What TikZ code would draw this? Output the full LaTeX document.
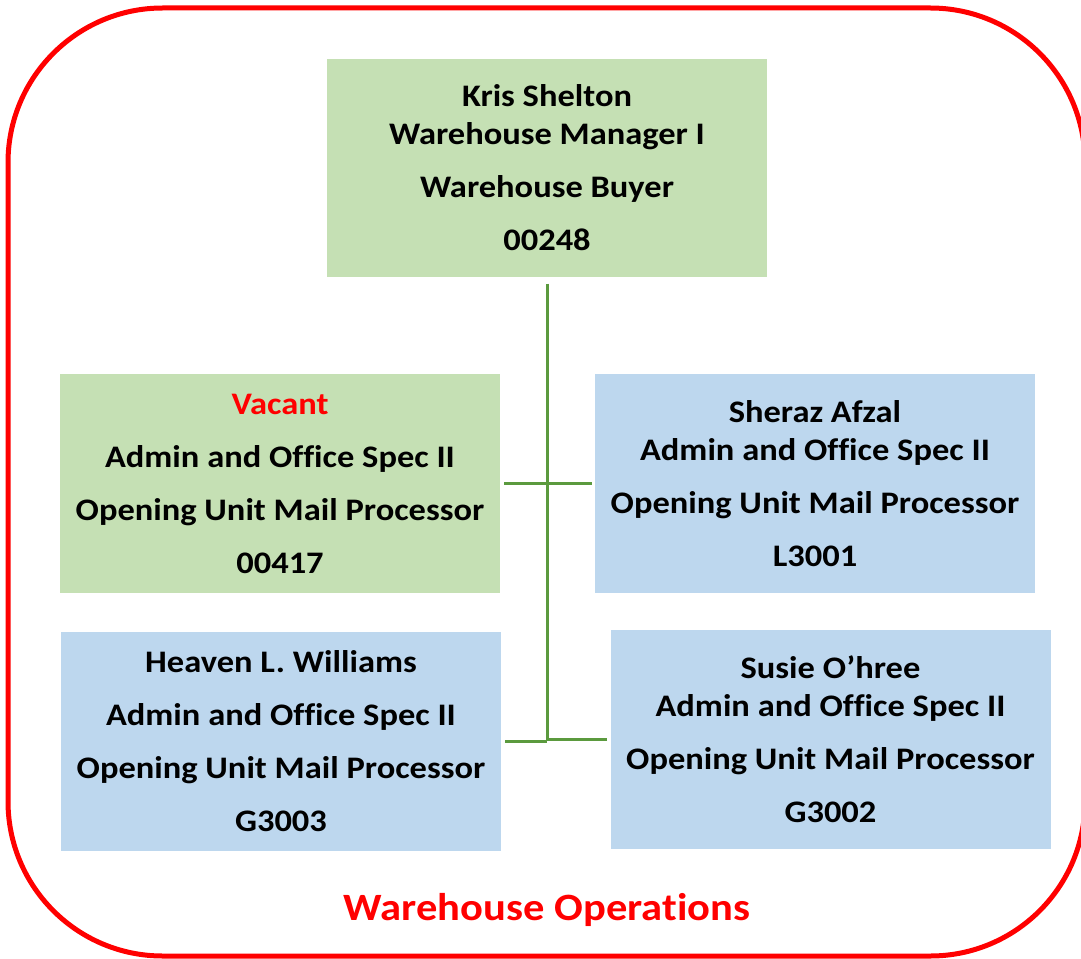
\documentclass[tikz,border=0pt]{standalone}
\usepackage{fontspec}
\setmainfont{Carlito}[FakeStretch=1.1,Ligatures=NoCommon]
\definecolor{boxgreen}{HTML}{C5E0B4}
\definecolor{boxblue}{HTML}{BDD7EE}
\definecolor{linegreen}{HTML}{5B9A3E}
\begin{document}
\begin{tikzpicture}[x=0.75pt,y=-0.75pt]
        \tikzstyle{post}=[rectangle,inner sep=0pt,minimum width=330pt,minimum height=164pt,align=center,font=\fontsize{23.5}{28.5}\selectfont\bfseries]
        \tikzstyle{filled}=[post,fill=boxgreen]
        \tikzstyle{staff}=[post,fill=boxblue]
        \tikzstyle{edge}=[draw,linegreen,line width=2.25pt]
        \useasboundingbox (0,0) rectangle (1081,959);
        \draw[red,line width=3.75pt,rounded corners=116pt] (8,8) rectangle (1085,956);
       \begin{scope}
        \node [filled] (boss) at (547,168) {Kris Shelton\\Warehouse Manager I\\[11.25pt]Warehouse Buyer\\[11.25pt]00248};
        \node [filled] (vacant) at (280,483.5) {\textcolor{red}{Vacant}\\[11.25pt]Admin and Office Spec II\\[11.25pt]Opening Unit Mail Processor\\[11.25pt]00417};
        \node [staff] (sheraz) at (815,483.5) {Sheraz Afzal\\Admin and Office Spec II\\[11.25pt]Opening Unit Mail Processor\\[11.25pt]L3001};
        \node [staff] (heaven) at (281,741.5) {Heaven L. Williams\\[11.25pt]Admin and Office Spec II\\[11.25pt]Opening Unit Mail Processor\\[11.25pt]G3003};
        \node [staff] (susie) at (830.5,739.5) {Susie O’hree\\Admin and Office Spec II\\[11.25pt]Opening Unit Mail Processor\\[11.25pt]G3002};
        \node [font=\fontsize{29}{34}\selectfont\bfseries,text=red] (dept) at (547,910) {Warehouse Operations};

        \coordinate (mid) at (547,741);
         \path[edge,shorten <=4.5pt] (boss.south) -- (mid);
         \path[edge,shorten <=3pt,shorten >=2.25pt] (vacant.east) -- (sheraz.west);
         \path[edge,shorten <=3pt] (heaven.east) -- (heaven.east -| mid);
         \path[edge,shorten <=2.25pt] (susie.west) -- (susie.west -| mid);
        \end{scope}
      \end{tikzpicture}
\end{document}
